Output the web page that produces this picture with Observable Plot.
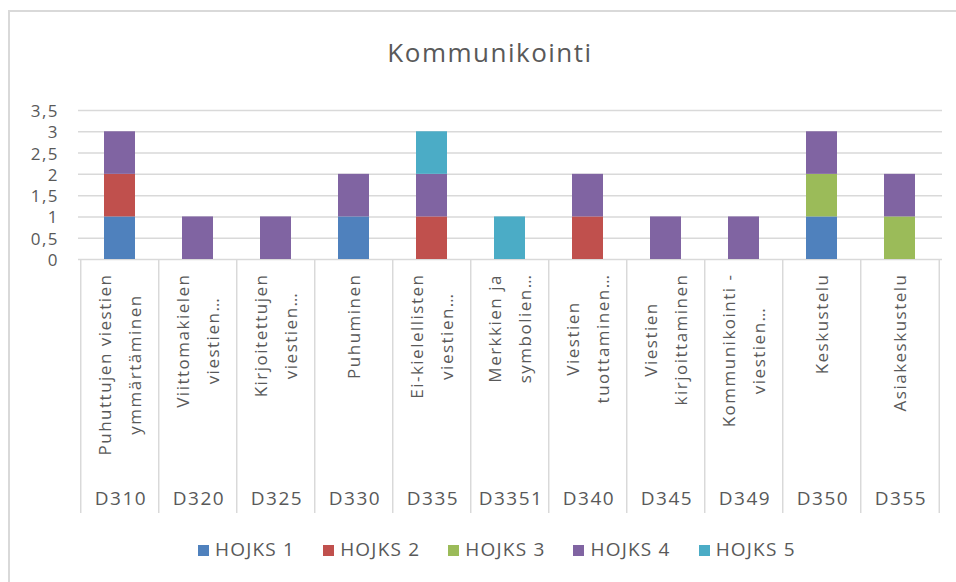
<!DOCTYPE html>
<html>
<head>
<meta charset="utf-8">
<script src="https://cdn.jsdelivr.net/npm/d3@7"></script>
<script src="https://cdn.jsdelivr.net/npm/@observablehq/plot@0.6"></script>
<style>
  html, body { margin: 0; padding: 0; background: #fff; }
  #wrap { position: relative; width: 956px; height: 582px; overflow: hidden; background: #fff; font-family: "Open Sans", Lato, sans-serif; color: #595959; }
  #frame { position: absolute; left: 8px; top: 10px; width: 1000px; height: 700px; border-left: 2px solid #d9d9d9; border-top: 2px solid #d9d9d9; box-sizing: border-box; }
  #title { position: absolute; top: 39px; left: 490px; transform: translateX(-50%); font-size: 26px; line-height: 26px; letter-spacing: 1.5px; white-space: nowrap; }
  #legend { position: absolute; top: 540px; left: 198px; display: flex; font-size: 19px; line-height: 19px; letter-spacing: 1.2px; white-space: nowrap; }
  #legend .item { display: flex; align-items: center; margin-right: 28px; }
  #legend .sw { width: 11px; height: 11px; margin-right: 6px; margin-top: 1px; }
  svg { position: absolute; left: 0; top: 0; }
  svg text { letter-spacing: 1.5px; }
</style>
</head>
<body>
<div id="wrap">
  <div id="frame"></div>
  <div id="title"></div>
  <div id="legend"></div>
</div>
<script>
const title = "Kommunikointi";
const codes = ["D310", "D320", "D325", "D330", "D335", "D3351", "D340", "D345", "D349", "D350", "D355"];
const labels = [
  "Puhuttujen viestien\nymmärtäminen",
  "Viittomakielen\nviestien…",
  "Kirjoitettujen\nviestien…",
  "Puhuminen",
  "Ei-kielellisten\nviestien…",
  "Merkkien ja\nsymbolien…",
  "Viestien\ntuottaminen…",
  "Viestien\nkirjoittaminen",
  "Kommunikointi -\nviestien…",
  "Keskustelu",
  "Asiakeskustelu"
];
const series = ["HOJKS 1", "HOJKS 2", "HOJKS 3", "HOJKS 4", "HOJKS 5"];
const colors = ["#4f81bd", "#c0504d", "#9bbb59", "#8064a2", "#4bacc6"];
const hojks1 = [1, 0, 0, 1, 0, 0, 0, 0, 0, 1, 0];
const hojks2 = [1, 0, 0, 0, 1, 0, 1, 0, 0, 0, 0];
const hojks3 = [0, 0, 0, 0, 0, 0, 0, 0, 0, 1, 1];
const hojks4 = [1, 1, 1, 1, 1, 0, 1, 1, 1, 1, 1];
const hojks5 = [0, 0, 0, 0, 1, 1, 0, 0, 0, 0, 0];
const yTicks = [0, 0.5, 1, 1.5, 2, 2.5, 3, 3.5];

const seriesValues = [hojks1, hojks2, hojks3, hojks4, hojks5];
const rows = [];
series.forEach((s, si) => {
  seriesValues[si].forEach((v, ci) => {
    if (v > 0) rows.push({code: codes[ci], series: s, value: v});
  });
});

const W = 956, H = 582;
const mL = 78, mR = 14, mT = 110, mB = 323;
const step = (W - mL - mR) / codes.length;
const grey = "#d9d9d9";
const txt = "#595959";
const font = "'Open Sans', Lato, sans-serif";
const labelSize = 17;
const ls = 1.5;

// measure longest line of each category label (incl. letter spacing)
const ctx = document.createElement("canvas").getContext("2d");
ctx.font = `${labelSize}px "Open Sans"`;
const maxLine = labels.map(l => d3.max(l.split("\n"), s => ctx.measureText(s).width + s.length * ls));

const labelMarks = labels.map((l, i) =>
  Plot.text([codes[i]], {
    x: d => d,
    text: () => l,
    frameAnchor: "bottom",
    rotate: -90,
    textAnchor: "middle",
    lineAnchor: "middle",
    lineHeight: 30 / labelSize,
    dx: -4,
    dy: 14 + maxLine[i] / 2,
    fontSize: labelSize,
    fill: txt
  })
);

const plot = Plot.plot({
  width: W,
  height: H,
  marginLeft: mL,
  marginRight: mR,
  marginTop: mT,
  marginBottom: mB,
  style: {fontFamily: font, background: "transparent", color: txt},
  x: {domain: codes, paddingInner: 0.6, paddingOuter: 0.3, axis: null},
  y: {domain: [0, 3.5], axis: null},
  color: {domain: series, range: colors},
  marks: [
    Plot.gridY(yTicks, {stroke: grey, strokeOpacity: 1, strokeWidth: 1.5}),
    Plot.ruleX(codes, {x: d => d, dx: -step / 2, insetTop: 149, insetBottom: -254, stroke: grey, strokeWidth: 1.5}),
    Plot.ruleX([codes[codes.length - 1]], {x: d => d, dx: step / 2, insetTop: 149, insetBottom: -254, stroke: grey, strokeWidth: 1.5}),
    Plot.barY(rows, {x: "code", y: "value", fill: "series"}),
    Plot.axisY(yTicks, {label: null, tickSize: 0, tickPadding: 19.5, fontSize: 17, fill: txt, dy: 1, tickFormat: d => String(d).replace(".", ",")}),
    ...labelMarks,
    Plot.text(codes, {x: d => d, frameAnchor: "bottom", dy: 245, dx: 1, fontSize: 19, fill: txt})
  ]
});

document.getElementById("wrap").appendChild(plot);
document.getElementById("title").textContent = title;
const legend = document.getElementById("legend");
series.forEach((s, i) => {
  const item = document.createElement("div");
  item.className = "item";
  const sw = document.createElement("div");
  sw.className = "sw";
  sw.style.background = colors[i];
  const t = document.createElement("span");
  t.textContent = s;
  item.appendChild(sw);
  item.appendChild(t);
  legend.appendChild(item);
});
</script>
</body>
</html>
